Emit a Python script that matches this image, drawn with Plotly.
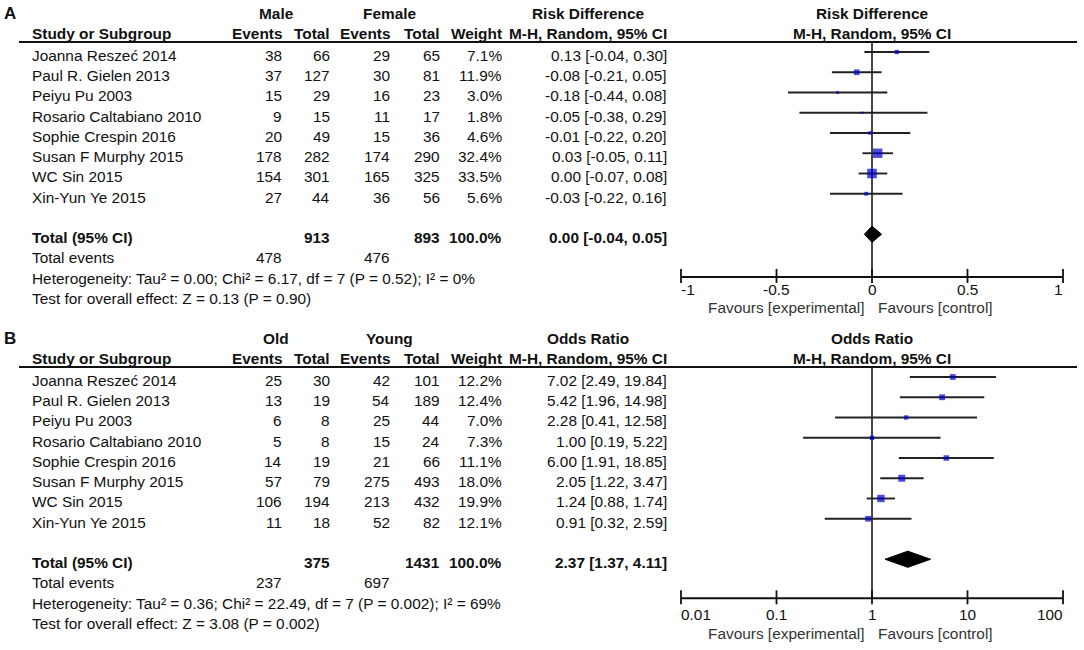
import math
import plotly.graph_objects as go

# ---------------- data ----------------
studies = ["Joanna Reszeć 2014", "Paul R. Gielen 2013", "Peiyu Pu 2003",
           "Rosario Caltabiano 2010", "Sophie Crespin 2016", "Susan F Murphy 2015",
           "WC Sin 2015", "Xin-Yun Ye 2015"]

# Panel A: Male vs Female, Risk Difference
male_events = [38, 37, 15, 9, 20, 178, 154, 27]
male_total = [66, 127, 29, 15, 49, 282, 301, 44]
female_events = [29, 30, 16, 11, 15, 174, 165, 36]
female_total = [65, 81, 23, 17, 36, 290, 325, 56]
weight_a = [7.1, 11.9, 3.0, 1.8, 4.6, 32.4, 33.5, 5.6]
rd_est = [0.13, -0.08, -0.18, -0.05, -0.01, 0.03, 0.00, -0.03]
rd_lo = [-0.04, -0.21, -0.44, -0.38, -0.22, -0.05, -0.07, -0.22]
rd_hi = [0.30, 0.05, 0.08, 0.29, 0.20, 0.11, 0.08, 0.16]
rd_pooled = [0.00, -0.04, 0.05]
het_a = "Heterogeneity: Tau² = 0.00; Chi² = 6.17, df = 7 (P = 0.52); I² = 0%"
test_a = "Test for overall effect: Z = 0.13 (P = 0.90)"
ticks_a = [-1, -0.5, 0, 0.5, 1]
ticklabels_a = ["-1", "-0.5", "0", "0.5", "1"]

# Panel B: Old vs Young, Odds Ratio
old_events = [25, 13, 6, 5, 14, 57, 106, 11]
old_total = [30, 19, 8, 8, 19, 79, 194, 18]
young_events = [42, 54, 25, 15, 21, 275, 213, 52]
young_total = [101, 189, 44, 24, 66, 493, 432, 82]
weight_b = [12.2, 12.4, 7.0, 7.3, 11.1, 18.0, 19.9, 12.1]
or_est = [7.02, 5.42, 2.28, 1.00, 6.00, 2.05, 1.24, 0.91]
or_lo = [2.49, 1.96, 0.41, 0.19, 1.91, 1.22, 0.88, 0.32]
or_hi = [19.84, 14.98, 12.58, 5.22, 18.85, 3.47, 1.74, 2.59]
or_pooled = [2.37, 1.37, 4.11]
het_b = "Heterogeneity: Tau² = 0.36; Chi² = 22.49, df = 7 (P = 0.002); I² = 69%"
test_b = "Test for overall effect: Z = 3.08 (P = 0.002)"
ticks_b = [0.01, 0.1, 1, 10, 100]
ticklabels_b = ["0.01", "0.1", "1", "10", "100"]

total_weight = 100.0

# ---------------- layout constants ----------------
W, H = 1084, 650
ROW = 20.25
TOP = 52
FONT = "Arial, Liberation Sans, sans-serif"
FS = 15.4
TXT = "#111111"
BLUE = "#0000CD"
COLS = [282, 330, 390, 440, 502, 667]
NAME_X = 32
TXT_OFF = 0.17

fig = go.Figure()


def ann(text, x, y, xref, yref, xanchor="left", bold=False, size=FS, color=TXT, xshift=0):
    if bold:
        text = "<b>" + text + "</b>"
    fig.add_annotation(text=text, x=x, y=y, xref=xref, yref=yref, xanchor=xanchor,
                       yanchor="middle", showarrow=False, borderpad=0, borderwidth=0,
                       xshift=xshift, font=dict(family=FONT, size=size, color=color))


def panel(letter, xa, ya, g1, g2, e1, t1, e2, t2, w, est, lo, hi, pooled, measure,
          het, test, ticks, ticklabels, null, axis_r, tick_r, fav_r, log):
    xr, yr = xa, ya
    fmt = (lambda v: math.log10(v)) if log else (lambda v: v)
    # header texts
    ann(letter, 4 / W, -2 + 0.1, "paper", yr, bold=True, size=17)
    ann(g1, 276 / W, -2 + 0.1, "paper", yr, xanchor="center", bold=True)
    ann(g2, 389 / W, -2 + 0.1, "paper", yr, xanchor="center", bold=True)
    ann(measure, 588 / W, -2 + 0.1, "paper", yr, xanchor="center", bold=True)
    ann(measure, fmt(null), -2 + 0.1, xr, yr, xanchor="center", bold=True)
    ann("Study or Subgroup", NAME_X / W, -1 + 0.1, "paper", yr, bold=True)
    for txt, c in zip(["Events", "Total", "Events", "Total", "Weight",
                       "M-H, Random, 95% CI"], COLS):
        ann(txt, c / W, -1 + 0.1, "paper", yr, xanchor="right", bold=True)
    ann("M-H, Random, 95% CI", fmt(null), -1 + 0.1, xr, yr, xanchor="center", bold=True)
    # header rule
    fig.add_shape(type="line", xref="paper", yref=yr, x0=19 / W, x1=1077 / W,
                  y0=-0.5, y1=-0.5, line=dict(color="#111", width=2))
    # study rows
    for i, s in enumerate(studies):
        y = i + TXT_OFF
        ann(s, NAME_X / W, y, "paper", yr)
        vals = [str(e1[i]), str(t1[i]), str(e2[i]), str(t2[i]), f"{w[i]:.1f}%",
                f"{est[i]:.2f} [{lo[i]:.2f}, {hi[i]:.2f}]"]
        for v, c in zip(vals, COLS):
            ann(v, c / W, y, "paper", yr, xanchor="right")
    rows = list(range(len(studies)))
    r_tot = len(studies) + 1
    # totals
    ann("Total (95% CI)", NAME_X / W, r_tot + TXT_OFF, "paper", yr, bold=True)
    ann(str(sum(t1)), COLS[1] / W, r_tot + TXT_OFF, "paper", yr, xanchor="right", bold=True)
    ann(str(sum(t2)), COLS[3] / W, r_tot + TXT_OFF, "paper", yr, xanchor="right", bold=True)
    ann(f"{total_weight:.1f}%", COLS[4] / W, r_tot + TXT_OFF, "paper", yr, xanchor="right", bold=True)
    ann(f"{pooled[0]:.2f} [{pooled[1]:.2f}, {pooled[2]:.2f}]", COLS[5] / W,
        r_tot + TXT_OFF, "paper", yr, xanchor="right", bold=True)
    ann("Total events", NAME_X / W, r_tot + 1 + TXT_OFF, "paper", yr)
    ann(str(sum(e1)), COLS[0] / W, r_tot + 1 + TXT_OFF, "paper", yr, xanchor="right")
    ann(str(sum(e2)), COLS[2] / W, r_tot + 1 + TXT_OFF, "paper", yr, xanchor="right")
    ann(het, NAME_X / W, r_tot + 2 + TXT_OFF, "paper", yr)
    ann(test, NAME_X / W, r_tot + 3 + TXT_OFF, "paper", yr)

    # zero / null line
    fig.add_trace(go.Scatter(x=[null, null], y=[-0.5, axis_r], mode="lines",
                             line=dict(color="#333", width=1.8), xaxis=xa, yaxis=ya,
                             hoverinfo="skip", showlegend=False))
    # CI lines
    cx, cy = [], []
    for i in rows:
        cx += [lo[i], hi[i], None]
        cy += [i, i, None]
    fig.add_trace(go.Scatter(x=cx, y=cy, mode="lines", line=dict(color="#222", width=1.9),
                             xaxis=xa, yaxis=ya, hoverinfo="skip", showlegend=False))
    # study markers
    fig.add_trace(go.Scatter(x=est, y=rows, mode="markers",
                             marker=dict(symbol="square", color=BLUE,
                                         size=[1.65 * math.sqrt(v) for v in w],
                                         line=dict(width=0)),
                             xaxis=xa, yaxis=ya, cliponaxis=False, showlegend=False))
    # pooled diamond
    dh = 0.4
    fig.add_trace(go.Scatter(x=[pooled[1], pooled[0], pooled[2], pooled[0], pooled[1]],
                             y=[r_tot, r_tot - dh, r_tot, r_tot + dh, r_tot],
                             mode="lines", fill="toself", fillcolor="black",
                             line=dict(color="black", width=1), xaxis=xa, yaxis=ya,
                             showlegend=False, hoverinfo="skip"))
    # axis line and ticks
    fig.add_trace(go.Scatter(x=[ticks[0], ticks[-1]], y=[axis_r, axis_r], mode="lines",
                             line=dict(color="#111", width=2), xaxis=xa, yaxis=ya,
                             hoverinfo="skip", showlegend=False))
    fig.add_trace(go.Scatter(x=ticks, y=[axis_r - 0.05] * len(ticks), mode="markers",
                             marker=dict(symbol="line-ns", size=10,
                                         line=dict(width=1.8, color="#111")),
                             xaxis=xa, yaxis=ya, cliponaxis=False, hoverinfo="skip",
                             showlegend=False))
    for k, (t, lab) in enumerate(zip(ticks, ticklabels)):
        anchor = "left" if k == 0 else ("right" if k == len(ticks) - 1 else "center")
        ann(lab, fmt(t), tick_r, xr, yr, xanchor=anchor, color="#111")
    ann("Favours [experimental]", fmt(null), fav_r, xr, yr, xanchor="right",
        color="#333", xshift=-7)
    ann("Favours [control]", fmt(null), fav_r, xr, yr, xanchor="left",
        color="#333", xshift=6)


panel("A", "x", "y", "Male", "Female", male_events, male_total, female_events, female_total,
      weight_a, rd_est, rd_lo, rd_hi, rd_pooled, "Risk Difference", het_a, test_a,
      ticks_a, ticklabels_a, 0, 11.11, 11.72, 12.64, False)
panel("B", "x2", "y2", "Old", "Young", old_events, old_total, young_events, young_total,
      weight_b, or_est, or_lo, or_hi, or_pooled, "Odds Ratio", het_b, test_b,
      ticks_b, ticklabels_b, 1, 10.93, 11.75, 12.69, True)

r_top = -TOP / ROW
r_bot = (H / 2 - TOP) / ROW
xdom = [681 / W, 1063 / W]
fig.update_layout(
    width=W, height=H, margin=dict(l=0, r=0, t=0, b=0),
    paper_bgcolor="white", plot_bgcolor="white", showlegend=False,
    xaxis=dict(domain=xdom, range=[-1, 1], visible=False, anchor="y", fixedrange=True),
    yaxis=dict(domain=[0.5, 1], range=[r_bot, r_top], visible=False, anchor="x", fixedrange=True),
    xaxis2=dict(domain=xdom, type="log", range=[-2, 2], visible=False, anchor="y2", fixedrange=True),
    yaxis2=dict(domain=[0, 0.5], range=[r_bot, r_top], visible=False, anchor="x2", fixedrange=True),
)

fig.write_html("out.html", config={"displayModeBar": False},
               post_script="document.body.style.margin='0';document.body.style.overflow='hidden';")
